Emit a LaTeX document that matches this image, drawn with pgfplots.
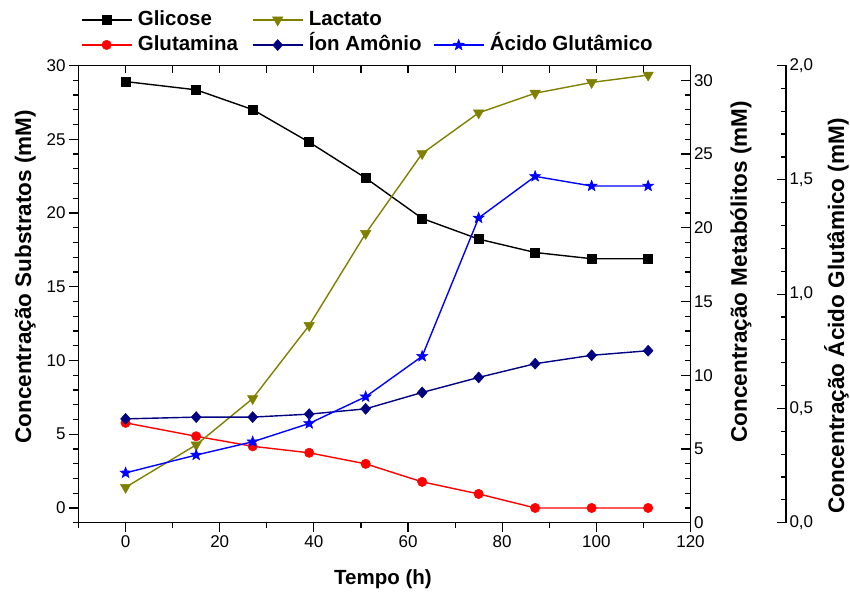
\documentclass[border=0pt]{standalone}
\usepackage{pgfplots}
\pgfplotsset{compat=1.18}
\usepackage{fontspec}
\setmainfont{Liberation Sans}
\definecolor{olivec}{RGB}{128,128,0}
\definecolor{navyc}{RGB}{0,0,128}
\definecolor{bluec}{RGB}{0,0,255}
\definecolor{redc}{RGB}{255,0,0}
\pgfdeclareplotmark{fstar}{%
  \pgfpathmoveto{\pgfpointpolar{90}{\pgfplotmarksize}}%
  \pgfpathlineto{\pgfpointpolar{126}{0.42\pgfplotmarksize}}%
  \pgfpathlineto{\pgfpointpolar{162}{\pgfplotmarksize}}%
  \pgfpathlineto{\pgfpointpolar{198}{0.42\pgfplotmarksize}}%
  \pgfpathlineto{\pgfpointpolar{234}{\pgfplotmarksize}}%
  \pgfpathlineto{\pgfpointpolar{270}{0.42\pgfplotmarksize}}%
  \pgfpathlineto{\pgfpointpolar{306}{\pgfplotmarksize}}%
  \pgfpathlineto{\pgfpointpolar{342}{0.42\pgfplotmarksize}}%
  \pgfpathlineto{\pgfpointpolar{18}{\pgfplotmarksize}}%
  \pgfpathlineto{\pgfpointpolar{54}{0.42\pgfplotmarksize}}%
  \pgfpathclose
  \pgfusepathqfillstroke
}
\pgfdeclareplotmark{dtri}{%
  \pgfpathmoveto{\pgfpointpolar{270}{\pgfplotmarksize}}%
  \pgfpathlineto{\pgfpointpolar{30}{\pgfplotmarksize}}%
  \pgfpathlineto{\pgfpointpolar{150}{\pgfplotmarksize}}%
  \pgfpathclose
  \pgfusepathqfillstroke
}
\pgfdeclareplotmark{wdiam}{%
  \pgfpathmoveto{\pgfqpoint{0pt}{\pgfplotmarksize}}%
  \pgfpathlineto{\pgfqpoint{0.9\pgfplotmarksize}{0pt}}%
  \pgfpathlineto{\pgfqpoint{0pt}{-\pgfplotmarksize}}%
  \pgfpathlineto{\pgfqpoint{-0.9\pgfplotmarksize}{0pt}}%
  \pgfpathclose
  \pgfusepathqfillstroke
}
\pgfplotstableread{
t  glic  glut  lact  ion   acid
0  28.91 5.77  2.40  7.04  0.218
15 28.35 4.86  5.28  7.16  0.296
27 27.01 4.18  8.42  7.16  0.354
39 24.80 3.74  13.38 7.36  0.434
51 22.37 2.99  19.61 7.72  0.551
63 19.63 1.77  25.03 8.83  0.728
75 18.23 0.95  27.79 9.85  1.333
87 17.32 0.00  29.12 10.78 1.515
99 16.90 0.00  29.85 11.35 1.473
111 16.90 0.00 30.35 11.66 1.473
}\datatable
\begin{document}
\begin{tikzpicture}
\useasboundingbox (0,0) rectangle (850pt,595pt);
\pgfplotsset{
  base/.style={
    scale only axis, width=612pt, height=457.2pt,
    at={(78.5pt,72.3pt)}, anchor=south west,
    xmin=-10, xmax=120,
    /pgf/number format/assume math mode=true,
    tick label style={font=\fontsize{17}{17}\selectfont},
    label style={font=\fontsize{22.5}{26}\selectfont\bfseries},
    major tick length=9.5pt, minor tick length=5.5pt,
    tick style={black, line width=1.2pt},
    axis line style={line width=1.2pt},
    every axis plot/.append style={line width=1.4pt},
    clip=false,
    legend cell align=left,
    legend image code/.code={\draw[mark repeat=2,mark phase=2] plot coordinates {(0pt,0pt) (25pt,0pt) (50pt,0pt)};},
    legend style={anchor=north west, draw=none, fill=none,
      inner sep=0pt, outer sep=0pt,
      font=\fontsize{20.5}{24}\selectfont\bfseries,
      nodes={anchor=west, inner xsep=0pt, inner ysep=3pt, text height=15pt, text depth=4pt},
      /tikz/every odd column/.append style={column sep=5.5pt}},
  },
  glicstyle/.style={black, mark=square*, mark size=4.5pt, mark options={solid, fill=black, line width=0.5pt}},
  glutstyle/.style={redc, mark=*, mark size=4.7pt, mark options={solid, fill=redc, line width=0.5pt}},
  lactstyle/.style={olivec, mark=dtri, mark size=6pt, mark options={solid, fill=olivec, line width=0.5pt}},
  ionstyle/.style={navyc, mark=wdiam, mark size=5.5pt, mark options={solid, fill=navyc, line width=0.5pt}},
  acidstyle/.style={bluec, mark=fstar, mark size=5.8pt, mark options={solid, fill=bluec, line width=0.5pt}},
}
% top spine with inward ticks
\begin{axis}[base, axis x line*=top, axis y line=none, tick align=inside,
  ymin=0, ymax=1, xtick={0,10,...,110}, xticklabels={}, major tick length=8pt]
\end{axis}
% legend entry for Lactato (first row, second column)
\begin{axis}[base, axis lines=none, ymin=0, ymax=1,
  legend style={at={(axis description cs:0.2835,1.127)}}]
\addlegendimage{lactstyle}
\addlegendentry{Lactato}
\end{axis}
% left axis: substrates
\begin{axis}[base, axis x line*=bottom, axis y line*=left, tick align=outside,
  ymin=-1, ymax=30, ytick={0,5,...,30}, minor ytick={-1,0,...,30},
  xtick={0,20,...,120}, minor xtick={-10,10,...,110},
  xlabel={Tempo (h)}, ylabel={Concentração Substratos (mM)},
  xlabel style={at={(axis description cs:0.4975,-0.123)}, anchor=center, font=\fontsize{20.5}{24}\selectfont\bfseries},
  ylabel style={at={(axis description cs:-0.087,0.538)}, anchor=center},
  legend style={at={(axis description cs:0.004,1.127)}},
]
\addplot[glicstyle] table[x=t, y=glic] {\datatable};
\addlegendentry{Glicose}
\addplot[glutstyle] table[x=t, y=glut] {\datatable};
\addlegendentry{Glutamina}
\end{axis}
% middle right axis: metabolites
\begin{axis}[base, axis x line=none, axis y line*=right, tick align=inside,
  ymin=0, ymax=31, ytick={0,5,...,30}, minor ytick={0,1,...,31},
  ylabel={Concentração Metabólitos (mM)},
  ylabel style={at={(axis description cs:1.0825,0.549)}, anchor=center},
  legend style={at={(axis description cs:0.2835,1.072)}},
]
\addplot[lactstyle, forget plot] table[x=t, y=lact] {\datatable};
\addplot[ionstyle] table[x=t, y=ion] {\datatable};
\addlegendentry{Íon Amônio}
\end{axis}
% far right axis: glutamic acid
\begin{axis}[base, width=707.5pt, xmax=140.29, axis x line=none, axis y line*=right, tick align=inside,
  ymin=0, ymax=2, ytick={0,0.5,1,1.5,2},
  minor ytick={0.1,0.2,0.3,0.4,0.6,0.7,0.8,0.9,1.1,1.2,1.3,1.4,1.6,1.7,1.8,1.9},
  yticklabel style={/pgf/number format/.cd, fixed, fixed zerofill, precision=1, use comma},
  ylabel={Concentração Ácido Glutâmico (mM)},
  ylabel style={at={(axis description cs:1.0714,0.4525)}, anchor=center},
  legend style={at={(axis description cs:0.501,1.072)}},
]
\addplot[acidstyle] table[x=t, y=acid] {\datatable};
\addlegendentry{Ácido Glutâmico}
\end{axis}
\end{tikzpicture}
\end{document}
